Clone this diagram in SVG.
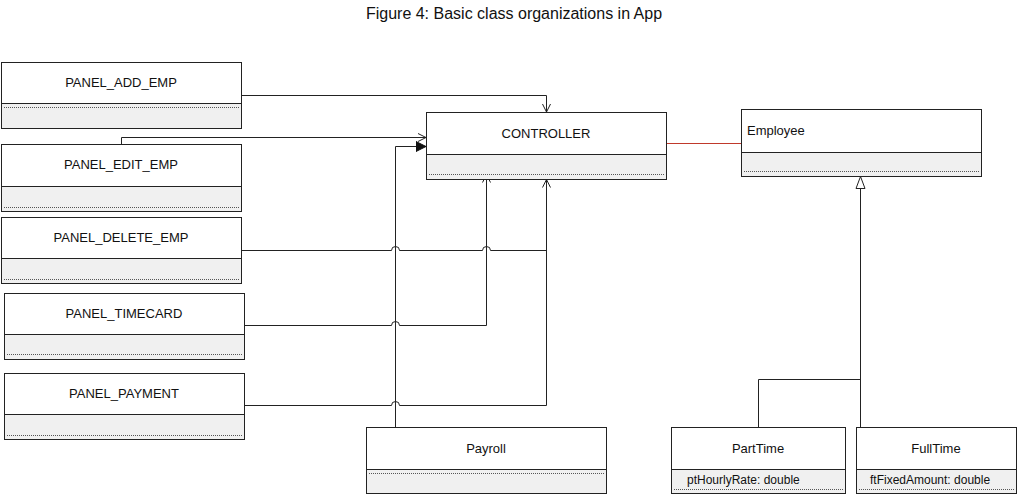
<svg xmlns="http://www.w3.org/2000/svg" width="1018" height="495" viewBox="0 0 1018 495">
<style>
.box{fill:#fff;stroke:#222;stroke-width:1}
.comp{fill:#f0f0f0;stroke:#222;stroke-width:1}
.dot{stroke:#555;stroke-width:1;stroke-dasharray:1 1;fill:none}
.t{font-family:"Liberation Sans",Arial,sans-serif;font-size:13px;fill:#111}
.a{font-family:"Liberation Sans",Arial,sans-serif;font-size:12px;fill:#111}
.c{fill:none;stroke:#222;stroke-width:1}
</style>
<defs>
<marker id="open" markerWidth="10" markerHeight="10" refX="9" refY="5" orient="auto" markerUnits="userSpaceOnUse"><path d="M1,1 L9,5 L1,9" fill="none" stroke="#222" stroke-width="1"/></marker>
<marker id="fill" markerWidth="12" markerHeight="12" refX="10" refY="6" orient="auto" markerUnits="userSpaceOnUse"><path d="M0,1 L10,6 L0,11 Z" fill="#111" stroke="#111"/></marker>
<marker id="tri" markerWidth="14" markerHeight="14" refX="13" refY="7" orient="auto" markerUnits="userSpaceOnUse"><path d="M1,2.5 L13,7 L1,11.5 Z" fill="#fff" stroke="#222"/></marker>
</defs>
<text x="514" y="19" text-anchor="middle" style="font-family:'Liberation Sans',Arial,sans-serif;font-size:16px;fill:#111">Figure 4: Basic class organizations in App</text>
<g id="connectors">
<path class="c" d="M241.5,95.5 H546.5 V112" marker-end="url(#open)"/>
<path class="c" d="M121.5,144 V137.5 H426" marker-end="url(#open)"/>
<path class="c" d="M395.5,427 V146.5 H426" marker-end="url(#fill)"/>
<path class="c" d="M241.5,250.5 H391.5 A4,4 0 0 1 399.5,250.5 H482.5 A4,4 0 0 1 490.5,250.5 H546.5"/>
<path class="c" d="M244.5,325.5 H391.5 A4,4 0 0 1 399.5,325.5 H486.5 V174.5" marker-end="url(#open)"/>
<path class="c" d="M244.5,405.5 H391.5 A4,4 0 0 1 399.5,405.5 H546.5 V179.5" marker-end="url(#open)"/>
<path d="M666,143.5 H741" fill="none" stroke="#c0392b" stroke-width="1"/>
<path class="c" d="M860.5,427 V176.5" marker-end="url(#tri)"/>
<path class="c" d="M758.5,427 V379.5 H860.5"/>
</g>
<g id="panel_add_emp">
<rect class="box" x="1.5" y="62.5" width="240" height="66"/>
<rect class="comp" x="1.5" y="103.5" width="240" height="25"/>
<line class="dot" x1="4" y1="107.5" x2="239" y2="107.5"/>
<text class="t" x="121" y="87" text-anchor="middle">PANEL_ADD_EMP</text>
</g>
<g id="panel_edit_emp">
<rect class="box" x="1.5" y="144.5" width="240" height="67"/>
<rect class="comp" x="1.5" y="186.5" width="240" height="25"/>
<line class="dot" x1="4" y1="207.5" x2="239" y2="207.5"/>
<text class="t" x="121" y="169" text-anchor="middle">PANEL_EDIT_EMP</text>
</g>
<g id="panel_delete_emp">
<rect class="box" x="1.5" y="217.5" width="240" height="66"/>
<rect class="comp" x="1.5" y="258.5" width="240" height="25"/>
<line class="dot" x1="4" y1="279.5" x2="239" y2="279.5"/>
<text class="t" x="121" y="242" text-anchor="middle">PANEL_DELETE_EMP</text>
</g>
<g id="panel_timecard">
<rect class="box" x="4.5" y="293.5" width="240" height="66"/>
<rect class="comp" x="4.5" y="334.5" width="240" height="25"/>
<line class="dot" x1="7" y1="354.5" x2="242" y2="354.5"/>
<text class="t" x="124" y="318" text-anchor="middle">PANEL_TIMECARD</text>
</g>
<g id="panel_payment">
<rect class="box" x="4.5" y="373.5" width="240" height="66"/>
<rect class="comp" x="4.5" y="414.5" width="240" height="25"/>
<line class="dot" x1="7" y1="435.5" x2="242" y2="435.5"/>
<text class="t" x="124" y="398" text-anchor="middle">PANEL_PAYMENT</text>
</g>
<g id="controller">
<rect class="box" x="426.5" y="112.5" width="240" height="67"/>
<rect class="comp" x="426.5" y="154.5" width="240" height="25"/>
<line class="dot" x1="429" y1="174.5" x2="664" y2="174.5"/>
<text class="t" x="546" y="138" text-anchor="middle">CONTROLLER</text>
</g>
<g id="employee">
<rect class="box" x="741.5" y="109.5" width="240" height="67"/>
<rect class="comp" x="741.5" y="152.5" width="240" height="24"/>
<line class="dot" x1="744" y1="171.5" x2="979" y2="171.5"/>
<text class="t" x="747" y="135">Employee</text>
</g>
<g id="payroll">
<rect class="box" x="366.5" y="427.5" width="240" height="66"/>
<rect class="comp" x="366.5" y="469.5" width="240" height="24"/>
<line class="dot" x1="369" y1="473.5" x2="604" y2="473.5"/>
<text class="t" x="486" y="453" text-anchor="middle">Payroll</text>
</g>
<g id="parttime">
<rect class="box" x="671.5" y="427.5" width="174" height="66"/>
<rect class="comp" x="671.5" y="469.5" width="174" height="24"/>
<line class="dot" x1="674" y1="489.5" x2="843" y2="489.5"/>
<text class="t" x="758" y="453" text-anchor="middle">PartTime</text>
<text class="a" x="687" y="484">ptHourlyRate: double</text>
</g>
<g id="fulltime">
<rect class="box" x="856.5" y="427.5" width="160" height="66"/>
<rect class="comp" x="856.5" y="469.5" width="160" height="24"/>
<line class="dot" x1="859" y1="489.5" x2="1014" y2="489.5"/>
<text class="t" x="936" y="453" text-anchor="middle">FullTime</text>
<text class="a" x="870" y="484">ftFixedAmount: double</text>
</g>
</svg>
